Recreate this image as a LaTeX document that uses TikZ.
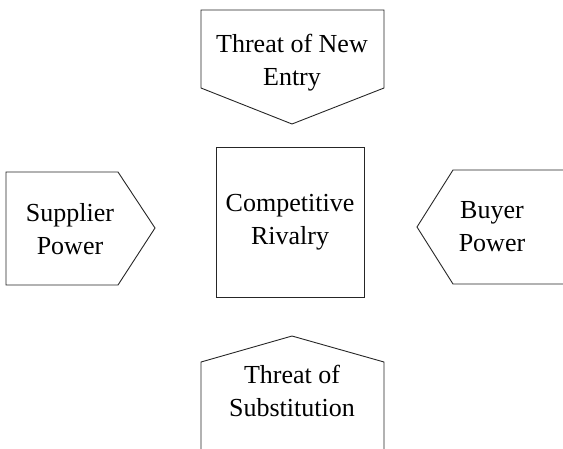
\documentclass[tikz,border=0pt]{standalone}
\usepackage{fontspec}
\setmainfont{Liberation Serif}
\usetikzlibrary{positioning}

\begin{document}
\begin{tikzpicture}[
    x=1pt,
    y=-1pt,
    force/.style={draw=black!85, line width=0.9pt, line join=miter},
    forcetext/.style={align=center, inner sep=0pt, font=\fontsize{26}{33}\selectfont},
    core/.style={draw=black!85, line width=0.9pt, minimum width=148pt, minimum height=150pt, inner sep=0pt}
]
\useasboundingbox (0,0) rectangle (563,448);
% the five forces
\draw[force] (201,10) -- (384,10) -- (384,88) -- (292,124) -- (201,88) -- cycle;
\draw[force] (6,172) -- (118,172) -- (155,228) -- (118,285) -- (6,285) -- cycle;
\draw[force] (570,170) -- (453,170) -- (417,227) -- (453,284) -- (570,284);
\draw[force] (201,455) -- (201,362) -- (292,336) -- (384,362) -- (384,455);
\node[core] (rivalry) at (290,222) {};

\node[forcetext] (entry) at (292,63) {Threat of New\\Entry};
\node[forcetext] (supplier) at (70,229) {Supplier\\Power};
\node[forcetext] (buyer) at (492,227) {Buyer\\Power};
\node[forcetext] (rivalrytext) at (290,222) {Competitive\\Rivalry};
\node[forcetext] (substitution) at (292,391) {Threat of\\Substitution};
\end{tikzpicture}
\end{document}
